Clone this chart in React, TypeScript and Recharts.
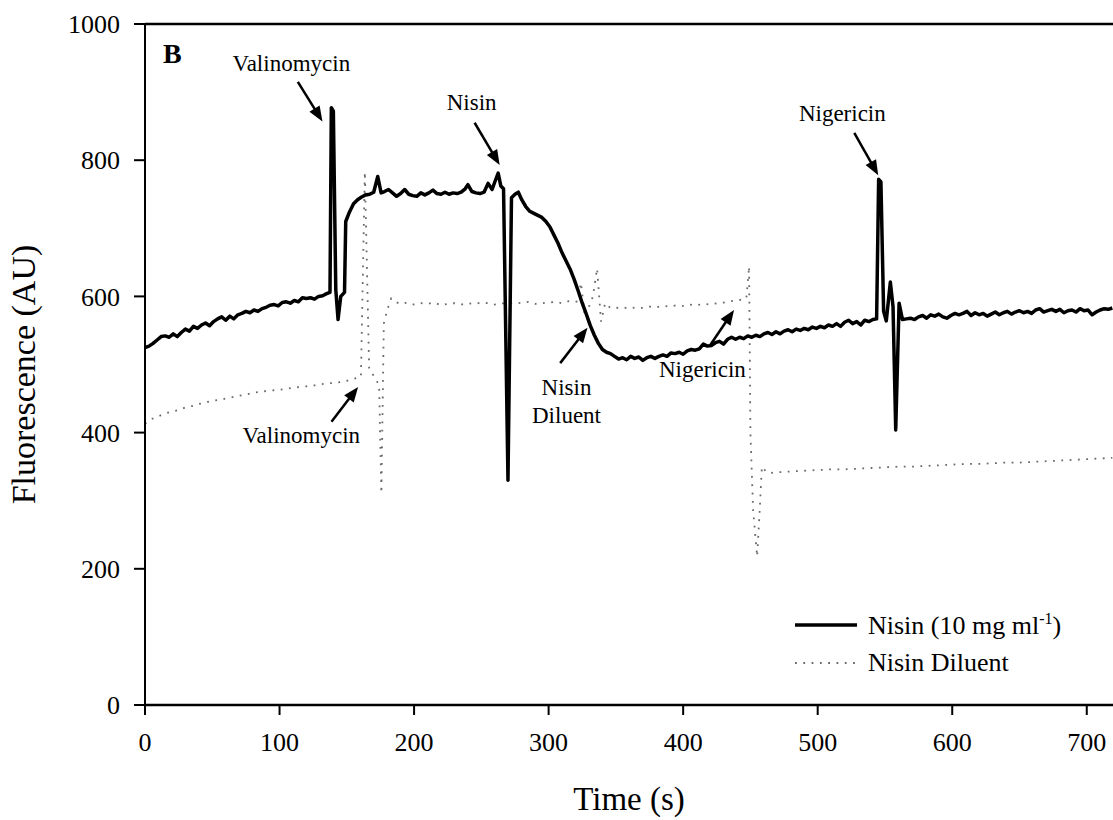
import { LineChart, Line, XAxis, YAxis, ReferenceLine, ReferenceDot, Label } from "recharts";

// Fluorescence traces, [time (s), fluorescence (AU)]
const nisinTrace: [number, number][] = [
  [0, 525], [3, 527], [6, 531], [9, 536], [12, 541], [15, 542], [18, 540], [21, 545], [24, 541], [27, 547],
  [30, 552], [33, 549], [36, 556], [39, 553], [42, 558], [45, 561], [48, 557], [51, 563], [54, 567], [57, 570],
  [60, 565], [63, 571], [66, 567], [69, 573], [72, 575], [75, 578], [78, 576], [81, 580], [84, 578], [87, 582],
  [90, 584], [93, 587], [96, 588], [99, 586], [102, 591], [105, 592], [108, 590], [111, 594], [114, 592], [117, 598],
  [120, 597], [123, 598], [126, 596], [129, 600], [132, 601], [135, 604], [137.5, 606], [138.5, 877], [140, 872], [141.8, 610],
  [143.5, 566], [145.5, 600], [148.3, 606], [149.2, 710], [152, 724], [155, 736], [158, 742], [161, 746], [164, 749], [167, 750],
  [170, 753], [173, 776], [175.5, 752], [178, 754], [181, 757], [184, 752], [187, 747], [190, 751], [193, 757], [196, 750],
  [199, 748], [202, 747], [205, 752], [208, 749], [211, 752], [214, 756], [217, 751], [220, 750], [223, 753], [226, 750],
  [229, 752], [232, 751], [235, 753], [238, 758], [240, 764], [243, 754], [246, 752], [249, 751], [252, 753], [255, 766],
  [258, 757], [260, 768], [262.5, 781], [264.5, 762], [266.5, 758], [269.8, 330], [272.4, 745], [275, 750], [277.5, 753], [280, 742],
  [283, 732], [286, 725], [289, 722], [292, 719], [295, 716], [298, 710], [301, 702], [304, 690], [307, 678], [310, 664],
  [313, 652], [316, 640], [319, 625], [322, 608], [325, 590], [328, 574], [331, 557], [334, 543], [337, 531], [340, 522],
  [343, 518], [346, 516], [349, 512], [352, 508], [355, 510], [358, 507], [361, 512], [364, 509], [367, 511], [370, 506],
  [373, 510], [376, 512], [379, 509], [382, 512], [385, 514], [388, 512], [391, 517], [394, 516], [397, 518], [400, 515],
  [403, 520], [406, 522], [409, 521], [412, 523], [415, 530], [418, 527], [421, 528], [424, 532], [427, 534], [430, 530],
  [433, 537], [436, 540], [439, 537], [442, 540], [445, 538], [448, 542], [451, 540], [454, 543], [457, 541], [460, 545],
  [463, 547], [466, 544], [469, 548], [472, 545], [475, 549], [478, 551], [481, 548], [484, 552], [487, 550], [490, 553],
  [493, 551], [496, 555], [499, 553], [502, 556], [505, 554], [508, 558], [511, 556], [514, 560], [517, 556], [520, 562],
  [523, 565], [526, 560], [529, 563], [532, 558], [535, 565], [538, 563], [541, 566], [543.8, 567], [545.3, 772], [547, 768],
  [549, 578], [551, 564], [554, 621], [556, 585], [558, 404], [560.5, 590], [563, 566], [566, 567], [569, 568], [572, 566],
  [575, 570], [578, 572], [581, 568], [584, 573], [587, 571], [590, 574], [593, 570], [596, 568], [599, 572], [602, 575],
  [605, 573], [608, 575], [611, 578], [614, 572], [617, 576], [620, 573], [623, 575], [626, 571], [629, 574], [632, 577],
  [635, 573], [638, 576], [641, 578], [644, 574], [647, 577], [650, 579], [653, 576], [656, 578], [659, 575], [662, 580],
  [665, 582], [668, 577], [671, 579], [674, 581], [677, 578], [680, 581], [683, 576], [686, 579], [689, 580], [692, 577],
  [695, 582], [698, 579], [701, 580], [704, 573], [707, 577], [710, 580], [713, 582], [716, 581], [719, 583],
];

const diluentTrace: [number, number][] = [
  [0, 413], [5, 420], [10, 424], [15, 428], [20, 431], [25, 433], [30, 437], [35, 439], [40, 442], [45, 444],
  [50, 447], [55, 448], [60, 450], [65, 452], [70, 454], [75, 456], [80, 458], [85, 460], [90, 461], [95, 462],
  [100, 463], [105, 464], [110, 466], [115, 467], [120, 468], [125, 469], [130, 471], [135, 472], [140, 473], [145, 474],
  [150, 476], [155, 479], [160.5, 482], [163.4, 783], [166.6, 495], [170, 483], [174, 470], [175.7, 311], [177.5, 560], [180, 580],
  [183, 597], [186, 592], [190, 589], [195, 591], [200, 588], [205, 590], [210, 589], [215, 591], [220, 587], [225, 589],
  [230, 590], [235, 588], [240, 590], [245, 589], [250, 591], [255, 590], [260, 588], [265, 590], [270, 589], [275, 591],
  [280, 590], [285, 592], [290, 589], [295, 590], [300, 591], [305, 592], [310, 590], [315, 593], [320, 592], [322, 593],
  [324, 620], [327, 570], [333, 600], [336, 641], [339, 563], [342, 590], [346, 583], [350, 583], [355, 584], [360, 582],
  [365, 584], [370, 583], [375, 585], [380, 584], [385, 586], [390, 585], [395, 587], [400, 586], [405, 588], [410, 587],
  [415, 589], [420, 588], [425, 590], [430, 591], [435, 593], [440, 594], [445, 596], [447, 597], [449, 644], [450, 400],
  [452, 286], [455, 218], [457, 290], [458.5, 350], [462, 342], [466, 341], [470, 342], [475, 342], [480, 343], [490, 344],
  [500, 345], [510, 346], [520, 346], [530, 347], [540, 348], [550, 349], [560, 350], [570, 350], [580, 351], [590, 352],
  [600, 353], [610, 354], [620, 354], [630, 355], [640, 356], [650, 356], [660, 357], [670, 358], [680, 359], [690, 360],
  [700, 361], [710, 362], [719, 363],
];

const timeTicks = [0, 100, 200, 300, 400, 500, 600, 700];
const fluorTicks = [0, 200, 400, 600, 800, 1000];

const NISIN = "Nisin (10 mg ml-1)";
const DILUENT = "Nisin Diluent";

// Event labels (anchor = text centre, baseline) and their arrows, in data units
const eventLabels = [
  { text: "Valinomycin", t: 108.8, v: 931 },
  { text: "Nisin", t: 242.8, v: 874 },
  { text: "Nigericin", t: 518.3, v: 857 },
  { text: "Valinomycin", t: 116.2, v: 385 },
  { text: "Nisin", t: 313.3, v: 455 },
  { text: "Diluent", t: 313.3, v: 414 },
  { text: "Nigericin", t: 414.3, v: 482 },
];

const eventArrows = [
  { from: [113.6, 915], to: [131.9, 857] },
  { from: [245.0, 855], to: [263.6, 793] },
  { from: [527.2, 840], to: [545.0, 778] },
  { from: [138.6, 416], to: [158.4, 467] },
  { from: [308.6, 502], to: [328.9, 554] },
  { from: [420.3, 529], to: [437.8, 580] },
];

const SERIF = "'Times New Roman', 'Liberation Serif', serif";
const DOT_GREY = "#6a6a6a";

const toPoints = (trace: [number, number][]) => trace.map(([t, v]) => ({ t, v }));
const nisinData = toPoints(nisinTrace);
const diluentData = toPoints(diluentTrace);

// straight shaft with a filled triangular head at (x2, y2)
const Arrow = (props: any) => {
  const { x1, y1, x2, y2 } = props;
  const dx = x2 - x1;
  const dy = y2 - y1;
  const len = Math.hypot(dx, dy) || 1;
  const ux = dx / len;
  const uy = dy / len;
  const head = 15;
  const half = 6;
  const bx = x2 - ux * head;
  const by = y2 - uy * head;
  const pts = `${x2},${y2} ${bx - uy * half},${by + ux * half} ${bx + uy * half},${by - ux * half}`;
  return (
    <g>
      <line x1={x1} y1={y1} x2={bx + ux * 2} y2={by + uy * 2} stroke="#000" strokeWidth={2.5} />
      <polygon points={pts} fill="#000" />
    </g>
  );
};

const legendRows = [
  { name: NISIN, stroke: "#000", width: 3.5, dash: undefined },
  { name: DILUENT, stroke: DOT_GREY, width: 1.8, dash: "1.8 6.5" },
];

export default function App() {
  return (
    <div style={{ position: "absolute", left: 0, top: 0, width: 1113, height: 820, background: "#fff", overflow: "hidden" }}>
      <LineChart width={1113} height={820} margin={{ top: 24, right: 0, bottom: 0, left: 0 }}>
        <XAxis
          dataKey="t"
          type="number"
          domain={[0, 719.5]}
          ticks={timeTicks}
          allowDataOverflow
          height={115}
          tickSize={10}
          tickMargin={18}
          axisLine={{ stroke: "#000", strokeWidth: 2.5 }}
          tickLine={{ stroke: "#000", strokeWidth: 2 }}
          tick={{ fill: "#000", fontSize: 26, fontFamily: SERIF }}
        >
          <Label
            content={({ viewBox }: any) => (
              <text
                x={viewBox.x + viewBox.width / 2}
                y={viewBox.y + 105}
                textAnchor="middle"
                fontFamily={SERIF}
                fontSize={33}
                fill="#000"
              >
                Time (s)
              </text>
            )}
          />
        </XAxis>
        <YAxis
          type="number"
          domain={[0, 1000]}
          ticks={fluorTicks}
          width={145}
          tickSize={11}
          tickMargin={14}
          axisLine={{ stroke: "#000", strokeWidth: 2 }}
          tickLine={{ stroke: "#000", strokeWidth: 2 }}
          tick={{ fill: "#000", fontSize: 26, fontFamily: SERIF }}
        >
          <Label
            content={({ viewBox }: any) => {
              const x = viewBox.x + 35;
              const y = viewBox.y + viewBox.height / 2 + 10;
              return (
                <text
                  x={x}
                  y={y}
                  transform={`rotate(-90 ${x} ${y})`}
                  textAnchor="middle"
                  fontFamily={SERIF}
                  fontSize={34}
                  fill="#000"
                >
                  Fluorescence (AU)
                </text>
              );
            }}
          />
        </YAxis>

        {/* top frame line */}
        <ReferenceLine y={1000} stroke="#000" strokeWidth={2.5} />

        <Line
          data={diluentData}
          dataKey="v"
          name={DILUENT}
          type="linear"
          stroke={DOT_GREY}
          strokeWidth={1.8}
          strokeDasharray="1.8 6.5"
          dot={false}
          activeDot={false}
          isAnimationActive={false}
        />
        <Line
          data={nisinData}
          dataKey="v"
          name={NISIN}
          type="linear"
          stroke="#000"
          strokeWidth={3.5}
          strokeLinejoin="round"
          dot={false}
          activeDot={false}
          isAnimationActive={false}
        />

        {eventArrows.map((a, i) => (
          <ReferenceLine
            key={`arrow-${i}`}
            segment={[{ x: a.from[0], y: a.from[1] }, { x: a.to[0], y: a.to[1] }]}
            shape={Arrow}
          />
        ))}

        {eventLabels.map((l, i) => (
          <ReferenceDot
            key={`label-${i}`}
            x={l.t}
            y={l.v}
            r={0}
            shape={(p: any) => (
              <text x={p.cx} y={p.cy} textAnchor="middle" fontFamily={SERIF} fontSize={23} fill="#000">
                {l.text}
              </text>
            )}
          />
        ))}

        {/* panel letter */}
        <ReferenceDot
          x={13.4}
          y={943}
          r={0}
          shape={(p: any) => (
            <text x={p.cx} y={p.cy} fontFamily={SERIF} fontSize={28} fontWeight="bold" fill="#000">
              B
            </text>
          )}
        />
      </LineChart>

      {/* legend */}
      <div style={{ position: "absolute", left: 795, top: 606, fontFamily: SERIF, fontSize: 26, color: "#000" }}>
        {legendRows.map((row) => (
          <div key={row.name} style={{ display: "flex", alignItems: "center", height: 38 }}>
            <svg width={62} height={10} style={{ marginRight: 11 }}>
              <line x1={0} y1={5} x2={62} y2={5} stroke={row.stroke} strokeWidth={row.width} strokeDasharray={row.dash} />
            </svg>
            <span>
              {row.name === NISIN ? (
                <>
                  Nisin (10 mg ml<sup style={{ fontSize: 16 }}>-1</sup>)
                </>
              ) : (
                row.name
              )}
            </span>
          </div>
        ))}
      </div>
    </div>
  );
}
